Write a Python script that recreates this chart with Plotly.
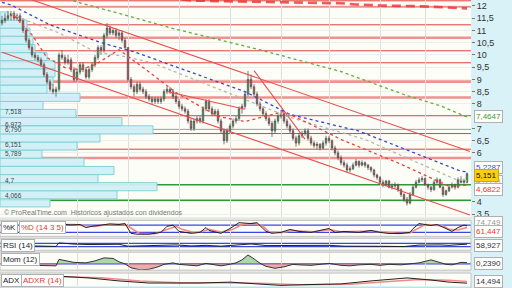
import plotly.graph_objects as go
import numpy as np

# ---------------- data ----------------
opens = [11.3, 11.4, 11.5, 11.6, 11.7, 11.5, 11.6, 11.4, 11.0, 10.6,
         10.3, 10.0, 9.9, 9.8, 9.6, 9.2, 8.9, 8.6, 8.5, 8.6,
         10.0, 9.9, 9.7, 9.8, 9.4, 9.0, 9.3, 9.6, 9.4, 9.1,
         9.4, 9.6, 9.9, 10.3, 10.2, 10.8, 11.1, 10.9, 11.0, 10.8,
         10.9, 10.6, 10.3, 9.0, 8.7, 8.5, 8.8, 8.6, 8.5, 8.3,
         8.2, 8.1, 8.2, 8.1, 8.2, 8.5, 8.6, 8.5, 8.3, 8.1,
         7.9, 7.8, 7.7, 7.3, 7.0, 7.3, 7.4, 7.3, 7.8, 8.1,
         7.8, 7.6, 7.7, 7.3, 6.9, 6.5, 6.9, 7.1, 7.3, 7.4,
         7.8, 7.9, 8.4, 9.0, 8.7, 8.4, 8.0, 7.8, 7.6, 7.4,
         7.2, 6.9, 7.3, 7.5, 7.6, 7.3, 7.1, 6.9, 6.6, 6.4,
         6.7, 6.8, 6.9, 6.6, 6.4, 6.3, 6.35, 6.2, 6.4, 6.6,
         6.5, 6.2, 6.0, 5.8, 5.6, 5.5, 5.3, 5.35, 5.5, 5.65,
         5.5, 5.6, 5.5, 5.4, 5.3, 5.1, 5.0, 4.8, 4.7, 4.85,
         4.6, 4.65, 4.7, 4.5, 4.3, 4.1, 3.95, 4.3, 4.6, 4.8,
         4.9, 4.95, 4.7, 4.6, 4.5, 4.8, 4.9, 4.6, 4.3, 4.45,
         4.6, 4.7, 4.6, 4.9, 4.8, 4.8]
highs = [11.6, 11.7, 11.8, 11.8, 11.8, 11.7, 11.7, 11.5, 11.1, 10.7,
         10.4, 10.1, 10.0, 9.9, 9.7, 9.3, 9.0, 8.8, 8.7, 10.1,
         10.2, 10.0, 10.0, 9.9, 9.5, 9.4, 9.7, 9.7, 9.5, 9.5,
         9.7, 10.0, 10.4, 10.4, 10.9, 11.3, 11.2, 11.1, 11.1, 11.0,
         11.0, 10.7, 10.3, 9.1, 8.8, 8.9, 8.9, 8.7, 8.6, 8.4,
         8.3, 8.3, 8.3, 8.3, 8.6, 8.7, 8.7, 8.6, 8.4, 8.2,
         8.0, 7.9, 7.8, 7.4, 7.4, 7.5, 7.5, 7.9, 8.2, 8.2,
         7.9, 7.8, 7.8, 7.4, 7.0, 7.0, 7.2, 7.4, 7.5, 7.9,
         8.0, 8.5, 9.35, 9.2, 8.8, 8.5, 8.1, 7.9, 7.7, 7.5,
         7.3, 7.4, 7.6, 7.75, 7.7, 7.4, 7.2, 7.0, 6.7, 6.8,
         6.9, 7.0, 7.0, 6.7, 6.5, 6.45, 6.4, 6.5, 6.7, 6.7,
         6.55, 6.3, 6.1, 5.9, 5.7, 5.6, 5.45, 5.6, 5.75, 5.7,
         5.7, 5.65, 5.55, 5.45, 5.35, 5.15, 5.05, 4.9, 4.9, 4.9,
         4.75, 4.8, 4.75, 4.55, 4.35, 4.2, 4.4, 4.7, 4.9, 5.0,
         5.05, 5.0, 4.75, 4.65, 4.9, 5.0, 4.95, 4.65, 4.5, 4.7,
         4.8, 4.75, 5.0, 5.05, 4.95, 5.2]
lows = [11.2, 11.3, 11.4, 11.4, 11.4, 11.4, 11.3, 10.9, 10.5, 10.2,
        9.9, 9.8, 9.7, 9.5, 9.1, 8.8, 8.5, 8.4, 8.3, 8.5,
        9.8, 9.6, 9.6, 9.3, 8.9, 8.9, 9.2, 9.3, 9.0, 9.0,
        9.3, 9.5, 9.8, 10.0, 10.1, 10.7, 10.8, 10.8, 10.7, 10.6,
        10.5, 10.2, 8.9, 8.6, 8.3, 8.4, 8.5, 8.4, 8.2, 8.1,
        8.0, 8.0, 8.0, 8.0, 8.1, 8.4, 8.4, 8.2, 8.0, 7.8,
        7.7, 7.6, 7.2, 6.9, 6.9, 7.2, 7.2, 7.2, 7.7, 7.7,
        7.5, 7.5, 7.2, 6.8, 6.35, 6.4, 6.8, 7.0, 7.2, 7.3,
        7.6, 7.8, 8.3, 8.6, 8.3, 7.9, 7.7, 7.5, 7.3, 7.1,
        6.65, 6.8, 7.2, 7.4, 7.2, 7.0, 6.8, 6.5, 6.25, 6.3,
        6.6, 6.7, 6.5, 6.3, 6.2, 6.15, 6.1, 6.15, 6.3, 6.4,
        6.1, 5.9, 5.7, 5.5, 5.4, 5.2, 5.2, 5.3, 5.45, 5.4,
        5.45, 5.4, 5.3, 5.2, 5.0, 4.9, 4.75, 4.6, 4.65, 4.55,
        4.5, 4.55, 4.4, 4.2, 4.0, 3.85, 3.9, 4.25, 4.55, 4.75,
        4.8, 4.65, 4.5, 4.4, 4.45, 4.7, 4.55, 4.2, 4.25, 4.4,
        4.55, 4.5, 4.55, 4.75, 4.7, 4.75]
closes = [11.4, 11.5, 11.6, 11.7, 11.5, 11.6, 11.4, 11.0, 10.6, 10.3,
          10.0, 9.9, 9.8, 9.6, 9.2, 8.9, 8.6, 8.5, 8.6, 10.0,
          9.9, 9.7, 9.8, 9.4, 9.0, 9.3, 9.6, 9.4, 9.1, 9.4,
          9.6, 9.9, 10.3, 10.2, 10.8, 11.1, 10.9, 11.0, 10.8, 10.9,
          10.6, 10.3, 9.0, 8.7, 8.5, 8.8, 8.6, 8.5, 8.3, 8.2,
          8.1, 8.2, 8.1, 8.2, 8.5, 8.6, 8.5, 8.3, 8.1, 7.9,
          7.8, 7.7, 7.3, 7.0, 7.3, 7.4, 7.3, 7.8, 8.1, 7.8,
          7.6, 7.7, 7.3, 6.9, 6.5, 6.9, 7.1, 7.3, 7.4, 7.8,
          7.9, 8.4, 9.0, 8.7, 8.4, 8.0, 7.8, 7.6, 7.4, 7.2,
          6.9, 7.3, 7.5, 7.6, 7.3, 7.1, 6.9, 6.6, 6.4, 6.7,
          6.8, 6.9, 6.6, 6.4, 6.3, 6.35, 6.2, 6.4, 6.6, 6.5,
          6.2, 6.0, 5.8, 5.6, 5.5, 5.3, 5.35, 5.5, 5.65, 5.5,
          5.6, 5.5, 5.4, 5.3, 5.1, 5.0, 4.8, 4.7, 4.85, 4.6,
          4.65, 4.7, 4.5, 4.3, 4.1, 3.95, 4.3, 4.6, 4.8, 4.9,
          4.95, 4.7, 4.6, 4.5, 4.8, 4.9, 4.6, 4.3, 4.45, 4.6,
          4.7, 4.6, 4.9, 4.8, 4.85, 5.151]
candle_idx = list(range(len(closes)))

# moving averages (vertices: candle index, price)
ma_long_x = [60, 63, 89, 113, 118, 126, 139, 148, 155]
ma_long_y = [12.27, 12.22, 12.16, 12.11, 12.06, 12.02, 11.99, 11.93, 11.90]
ma_green_x = [20, 25, 41, 56, 86, 113, 135, 146, 155]
ma_green_y = [12.40, 12.16, 11.63, 11.11, 10.21, 9.32, 8.34, 7.93, 7.4647]
ma_blue_x = [0, 3, 16, 33, 44, 81, 96, 119, 153, 155]
ma_blue_y = [12.15, 12.04, 11.23, 10.50, 10.13, 8.50, 7.57, 6.89, 5.25, 5.2287]
ma_gray_x = [3, 6, 19, 31, 41, 50, 81, 96, 121, 151, 155]
ma_gray_y = [11.70, 11.51, 10.90, 10.13, 9.93, 9.68, 8.18, 7.45, 6.55, 4.93, 4.853]
ma_red_x = [4, 10, 15, 21, 26, 31, 39, 48, 58, 66, 72, 81, 94, 103, 113, 133, 149, 155]
ma_red_y = [11.60, 10.82, 9.89, 9.48, 9.40, 9.60, 10.21, 9.40, 8.46, 7.89, 7.49, 7.28,
            7.69, 7.16, 6.55, 5.54, 4.64, 4.6822]

# hand-drawn trend lines
trend_a_x, trend_a_y = [0, 156], [12.67, 6.06]
trend_b_x, trend_b_y = [0, 156], [10.11, 3.46]
trend_c_x, trend_c_y = [55, 81], [8.51, 7.78]
trend_d_x, trend_d_y = [84, 101], [9.36, 6.56]

# horizontal levels
thin_levels = [12.21, 11.96, 11.23, 10.17, 9.68, 7.518, 6.972, 6.790, 6.151]
thick_levels = [10.70, 8.91, 8.26, 5.789]
support_levels = [4.7, 4.066]
level_label_values = [7.518, 6.972, 6.790, 6.151, 5.789, 4.7, 4.066]
level_label_text = ["7,518", "6,972", "6,790", "6,151", "5,789", "4,7", "4,066"]

# volume profile (price bin centres, relative volume)
profile_prices = [3.96, 4.29, 4.62, 4.95, 5.28, 5.62, 5.95, 6.28, 6.61, 6.94, 7.28, 7.61,
                  7.94, 8.27, 8.60, 8.94, 9.27, 9.60, 9.93, 10.26, 10.60, 10.93, 11.26, 11.59]
profile_volumes = [50, 117, 157, 98, 114, 84, 42, 77, 100, 153, 122, 76,
                   43, 80, 47, 53, 55, 55, 47, 35, 33, 30, 27, 8]
profile_bin = 0.332

price_ticks = [3.5, 4, 6, 6.5, 7, 8, 8.5, 9, 9.5, 10, 10.5, 11, 11.5, 12]

# indicators (vertices)
stoch_k_x = [19, 23, 26, 28, 30, 33, 36, 39, 41, 43, 45, 49, 53, 55, 57, 59, 63, 66, 68, 69,
             73, 76, 79, 83, 85, 88, 90, 93, 96, 99, 103, 106, 109, 111, 114, 119, 123, 126,
             129, 133, 136, 137, 139, 143, 145, 148, 150, 152, 154, 155]
stoch_k = [90, 82, 85, 60, 70, 82, 90, 85, 92, 12, 5, 5, 20, 70, 80, 28, 12, 20, 60, 35,
           12, 52, 100, 93, 100, 28, 12, 20, 44, 28, 20, 36, 52, 20, 28, 20, 36, 20,
           11, 11, 20, 50, 93, 77, 85, 52, 28, 60, 80, 74.749]
stoch_d_x = [21, 24, 28, 31, 34, 38, 41, 44, 46, 51, 54, 58, 60, 64, 67, 69, 73, 77, 80, 84,
             87, 89, 93, 97, 100, 104, 108, 110, 113, 118, 123, 128, 132, 136, 139, 141, 144,
             147, 149, 152, 155]
stoch_d = [85, 84, 75, 70, 82, 87, 88, 40, 10, 8, 35, 70, 45, 18, 30, 45, 22, 45, 85, 95,
           70, 25, 18, 36, 30, 25, 40, 40, 25, 25, 30, 20, 12, 15, 55, 85, 80,
           75, 45, 40, 61.447]
rsi_x = [10, 16, 18, 19, 24, 29, 34, 39, 42, 48, 54, 58, 63, 68, 73, 79, 83, 88, 94, 99,
         106, 109, 114, 121, 128, 134, 139, 146, 149, 153, 155]
rsi = [38, 35, 32, 75, 60, 55, 60, 58, 35, 38, 45, 50, 38, 45, 35, 55, 62, 42, 45, 40,
       42, 45, 35, 38, 33, 30, 48, 50, 45, 55, 58.927]
mom_x = [11, 18, 19, 21, 24, 28, 31, 34, 37, 39, 41, 43, 46, 49, 52, 54, 57, 59, 63, 65,
         68, 70, 73, 75, 78, 80, 82, 84, 86, 88, 91, 94, 97, 99, 103, 106, 109, 113, 116,
         119, 123, 126, 129, 133, 136, 139, 143, 145, 148, 150, 153, 155]
mom = [-0.3, -0.4, 0.9, 0.7, 0.3, 0.2, 0.6, 1.2, 1.1, 0.4, 0.0, -0.8, -1.2, -1.1, -0.6, -0.1,
       0.2, -0.1, -0.3, -0.4, 0.1, -0.1, -0.4, -0.2, 0.2, 0.8, 1.8, 1.0, 0.1, -0.5, -0.9,
       -0.6, -0.1, -0.2, -0.3, -0.1, 0.1, -0.3, -0.4, -0.2, -0.1, -0.3, -0.1, -0.2, 0.0,
       0.2, 0.8, 0.5, -0.1, -0.2, 0.3, 0.239]
adx_x = [19, 29, 39, 49, 66, 76, 85, 93, 99, 113, 123, 135, 143, 149, 155]
adx = [38, 32, 22, 15, 15, 18, 12, 7, 9, 12, 22, 32, 25, 18, 14.494]
adxr_x = [19, 33, 46, 59, 73, 86, 99, 116, 129, 139, 149, 155]
adxr = [36, 33, 22, 16, 16, 14, 9, 11, 20, 27, 24, 20]

# ---------------- layout helpers ----------------
W, H = 512, 288
PLOT_R = 471
XR = [-2 / 3, -2 / 3 + PLOT_R / 3]
FONT = "Liberation Sans"


def dom(top_px, bot_px):
    return [1 - bot_px / H, 1 - top_px / H]


def fmt(v, d):
    return f"{v:.{d}f}".replace(".", ",")


fig = go.Figure()

# volume profile bars
fig.add_trace(go.Bar(
    x=[v / 3 for v in profile_volumes], y=profile_prices, base=XR[0], orientation="h",
    width=profile_bin, marker=dict(color="rgba(206,240,247,0.94)", line=dict(color="#86cfdb", width=1)),
    xaxis="x", yaxis="y", hoverinfo="skip", showlegend=False))

# candles
fig.add_trace(go.Candlestick(
    x=candle_idx, open=opens, high=highs, low=lows, close=closes,
    increasing=dict(line=dict(color="#555555", width=0.8), fillcolor="#2fa83c"),
    decreasing=dict(line=dict(color="#555555", width=0.8), fillcolor="#e03c36"),
    whiskerwidth=0, xaxis="x", yaxis="y", showlegend=False, hoverinfo="skip"))


def line(x, y, color, width=1, dash="solid", ya="y"):
    fig.add_trace(go.Scatter(x=x, y=y, mode="lines", line=dict(color=color, width=width, dash=dash),
                             xaxis="x", yaxis=ya, showlegend=False, hoverinfo="skip"))


for tx, ty in [(trend_a_x, trend_a_y), (trend_b_x, trend_b_y), (trend_c_x, trend_c_y), (trend_d_x, trend_d_y)]:
    line(tx, ty, "#e8504a", 1.1)

line(ma_long_x, ma_long_y, "rgba(232,50,50,0.8)", 2.6, "9px,5px")
line(ma_green_x, ma_green_y, "#5fae3c", 1.3, "3px,3px")
line(ma_gray_x, ma_gray_y, "#b4b4b4", 1.3, "3px,3px")
line(ma_blue_x, ma_blue_y, "#3548d6", 1.3, "3px,3px")
line(ma_red_x, ma_red_y, "#e5443c", 1.3, "3px,3px")

# stochastic
line(stoch_d_x, stoch_d, "#f08a8a", 1.6, ya="y3")
line(stoch_k_x, stoch_k, "#222222", 1.0, ya="y3")
# rsi
line(rsi_x, rsi, "#222222", 1.0, ya="y4")
# momentum
mom_arr = np.array(mom)
fig.add_trace(go.Scatter(x=mom_x, y=np.maximum(mom_arr, 0), mode="lines", line=dict(width=0),
                         fill="tozeroy", fillcolor="rgba(120,190,110,0.6)", xaxis="x", yaxis="y5",
                         showlegend=False, hoverinfo="skip"))
fig.add_trace(go.Scatter(x=mom_x, y=np.minimum(mom_arr, 0), mode="lines", line=dict(width=0),
                         fill="tozeroy", fillcolor="rgba(225,120,115,0.6)", xaxis="x", yaxis="y5",
                         showlegend=False, hoverinfo="skip"))
line(mom_x, mom, "#333333", 1.0, ya="y5")
# adx
line(adxr_x, adxr, "#f08a8a", 1.5, ya="y6")
line(adx_x, adx, "#222222", 1.0, ya="y6")

shapes = []
# grey gaps between the indicator panels (left of the price strip)
for t, b in [(219, 222), (238, 240), (252, 254), (272, 275)]:
    shapes.append(dict(type="rect", xref="paper", yref="paper", x0=0, x1=PLOT_R / W,
                       y0=1 - b / H, y1=1 - t / H, fillcolor="#e6e7e2", line=dict(width=0), layer="below"))
for lv in thin_levels:
    shapes.append(dict(type="line", xref="x", yref="y", x0=XR[0], x1=XR[1], y0=lv, y1=lv,
                       line=dict(color="#e2403c", width=1), layer="below"))
for lv in thick_levels:
    shapes.append(dict(type="line", xref="x", yref="y", x0=XR[0], x1=XR[1], y0=lv, y1=lv,
                       line=dict(color="rgba(238,110,110,0.75)", width=2.6), layer="below"))
for lv in support_levels:
    shapes.append(dict(type="line", xref="x", yref="y", x0=XR[0], x1=XR[1], y0=lv, y1=lv,
                       line=dict(color="#2f9a35", width=1.3), layer="below"))
# indicator guide lines
for ya, lv in [("y3", 80), ("y3", 20), ("y4", 70), ("y4", 30), ("y5", 0)]:
    shapes.append(dict(type="line", xref="x", yref=ya, x0=XR[0], x1=XR[1], y0=lv, y1=lv,
                       line=dict(color="#3b46e6", width=1.2), layer="below"))

panels = [(222, 238), (240, 252), (254, 272), (275, 290)]
for t, b in panels:
    shapes.append(dict(type="rect", xref="paper", yref="paper", x0=0, x1=PLOT_R / W,
                       y0=1 - b / H, y1=1 - t / H, line=dict(color="#c4c4c4", width=1), layer="above"))

ann = []


def box(text, xpx, ypx, color, bg="white", size=8, xanchor="left", yanchor="middle", border="#b0b0b0"):
    ann.append(dict(text=text, x=xpx / W, y=1 - ypx / H, xref="paper", yref="paper",
                    xanchor=xanchor, yanchor=yanchor, showarrow=False,
                    font=dict(size=size, color=color, family=FONT), bgcolor=bg,
                    bordercolor=border, borderwidth=1, borderpad=1))


# level labels on the profile
for v, t in zip(level_label_values, level_label_text):
    ann.append(dict(text=t, x=3 / W, xref="paper", y=v, yref="y", xanchor="left", yanchor="bottom",
                    showarrow=False, font=dict(size=6.5, color="#444", family=FONT), yshift=-1))

ann.append(dict(text="© ProRealTime.com  Históricos ajustados con dividendos", x=2 / W, y=1 - 214 / H,
                xref="paper", yref="paper", xanchor="left", yanchor="middle", showarrow=False,
                font=dict(size=7, color="#777", family=FONT)))

# price-axis value boxes
box(fmt(ma_green_y[-1], 4), 474, 117.5, "#3f9b2c")
box(fmt(ma_gray_y[-1], 4), 474, 183, "#a0a0a0")
box(fmt(ma_blue_y[-1], 4), 474, 168.5, "#3548d6")
box(fmt(ma_red_y[-1], 4), 474, 190.5, "#e03a32")
box(fmt(closes[-1], 3), 474, 177, "#111", bg="#f9cf16", border="#d4a800")

# indicator value boxes
box(fmt(stoch_k[-1], 3), 474, 224.5, "#999")
box(fmt(stoch_d[-1], 3), 474, 233, "#e03a32")
box(fmt(rsi[-1], 3), 474, 247, "#333")
box(fmt(mom[-1], 4), 474, 265, "#333")
box(fmt(adx[-1], 3), 474, 283, "#333")

# panel names
box("%K", 1, 222.5, "#222", yanchor="top")
box("%D (14 3 5)", 19, 222.5, "#e03a32", yanchor="top")
box("RSI (14)", 1, 240.5, "#222", yanchor="top")
box("Mom (12)", 1, 254.5, "#222", yanchor="top")
box("ADX", 1, 275.5, "#222", yanchor="top")
box("ADXR (14)", 21, 275.5, "#e03a32", yanchor="top")

vgrid_idx = [25, 42, 59, 76, 93, 109, 126, 141]

fig.update_layout(
    width=W, height=H, margin=dict(l=0, r=0, t=0, b=0),
    paper_bgcolor="#d8f2f8", plot_bgcolor="#fdfdf8",
    separators=", ", showlegend=False, barmode="overlay",
    font=dict(family=FONT),
    xaxis=dict(domain=[0, PLOT_R / W], range=XR, anchor="y", showticklabels=False,
               tickvals=vgrid_idx, showgrid=True, gridcolor="#dedede", gridwidth=1,
               zeroline=False, ticks="", rangeslider=dict(visible=False), fixedrange=True),
    yaxis=dict(domain=dom(0, 219), range=[3.363, 12.243], side="right", anchor="x",
               tickvals=price_ticks, ticks="outside", ticklen=3, tickcolor="#777",
               tickfont=dict(size=9, color="#333", family=FONT), showgrid=True,
               gridcolor="#efefea", zeroline=False, showline=False),
    yaxis3=dict(domain=dom(222, 238), range=[-12.9, 118.6], anchor="x", showticklabels=False,
                showgrid=False, zeroline=False),
    yaxis4=dict(domain=dom(240, 252), range=[-14.8, 130.6], anchor="x", showticklabels=False,
                showgrid=False, zeroline=False),
    yaxis5=dict(domain=dom(254, 272), range=[-1.26, 2.34], anchor="x", showticklabels=False,
                showgrid=False, zeroline=False),
    yaxis6=dict(domain=dom(275, 288), range=[5, 48.3], anchor="x", showticklabels=False,
                showgrid=False, zeroline=False),
    shapes=shapes, annotations=ann,
)

fig.write_html("out.html")
